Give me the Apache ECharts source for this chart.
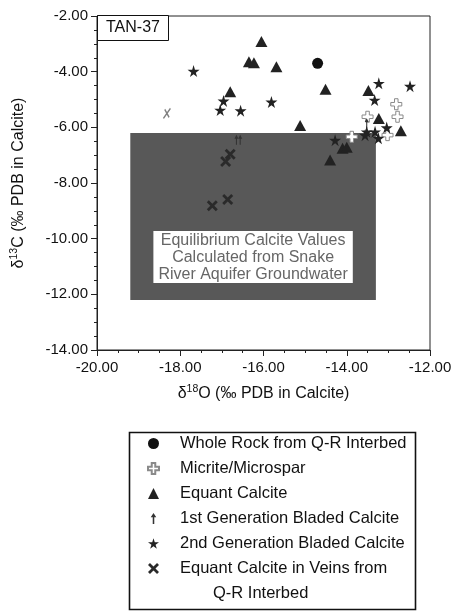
<!DOCTYPE html>
<html>
<head>
<meta charset="utf-8">
<script src="https://cdn.jsdelivr.net/npm/echarts@6/dist/echarts.min.js"></script>
<style>html,body{margin:0;padding:0;background:#fff;}#c{width:455px;height:611px;}</style>
</head>
<body>
<div id="c"></div>
<script>
// ---- data (δ18O, δ13C) ----
var xTicks = [-20, -18, -16, -14, -12];
var yTicks = [-14, -12, -10, -8, -6, -4, -2];
var wholeRock = [[-14.7, -3.7]];
var micrite = [[-12.81, -5.17], [-12.78, -5.62], [-13.5, -5.62], [-13.02, -6.28], [-13.88, -6.34]];
var equant = [[-16.05, -2.92], [-16.35, -3.64], [-16.23, -3.68], [-15.69, -3.82], [-16.8, -4.72],
  [-14.51, -4.63], [-15.12, -5.93], [-13.48, -4.68], [-13.23, -5.68], [-12.7, -6.12],
  [-14.1, -6.75], [-14.0, -6.72], [-14.4, -7.17]];
var bladed1 = [[-16.65, -6.45], [-16.56, -6.45], [-13.52, -5.85]];
var bladed2 = [[-17.68, -3.98], [-16.96, -5.05], [-17.04, -5.38], [-16.55, -5.4], [-15.81, -5.09],
  [-13.23, -4.42], [-13.33, -5.02], [-12.48, -4.52], [-13.04, -6.01], [-13.52, -6.16],
  [-13.32, -6.16], [-13.24, -6.39], [-13.56, -6.28], [-14.28, -6.46]];
var veins = [[-16.8, -6.97], [-16.91, -7.23], [-16.86, -8.59], [-17.23, -8.82]];
var other = [[-18.32, -5.5]];
var equilBox = [[-19.2, -6.2], [-13.3, -12.2]];
var names = ['Whole Rock from Q-R Interbed', 'Micrite/Microspar', 'Equant Calcite',
  '1st Generation Bladed Calcite', '2nd Generation Bladed Calcite', 'Equant Calcite in Veins from'];

var STAR = 'path://M50,0 L61,35 L98,35 L68,57 L79,91 L50,70 L21,91 L32,57 L2,35 L39,35 Z';
var PLUS = 'path://M34,0 H66 V34 H100 V66 H66 V100 H34 V66 H0 V34 H34 Z';
var XMARK = 'path://M18,0 L50,32 L82,0 L100,18 L68,50 L100,82 L82,100 L50,68 L18,100 L0,82 L32,50 L0,18 Z';
var ARROW = 'path://M50,0 L95,38 L62,38 L62,100 L38,100 L38,38 L5,38 Z';
var ARROW_LEG = 'path://M0,50 L0,50 M100,50 L100,50 M50,0 L75,38 L57,38 L57,100 L43,100 L43,38 L25,38 Z';
var THINX = 'path://M10,100 L90,0 M25,10 L75,90';

var chart = echarts.init(document.getElementById('c'));
var F = 'Liberation Sans, Arial, Helvetica, sans-serif';
chart.setOption({
  animation: false,
  textStyle: {fontFamily: F},
  grid: {left: 97, right: 25, top: 16, bottom: 261, show: true, borderColor: '#222', borderWidth: 1},
  title: {
    text: 'TAN-37', left: 97, top: 15,
    padding: [5, 9, 5, 9], borderColor: '#111', borderWidth: 1, backgroundColor: '#fff',
    textStyle: {fontSize: 16, fontWeight: 'normal', color: '#111', fontFamily: F}
  },
  xAxis: {
    type: 'value', min: xTicks[0], max: xTicks[xTicks.length - 1], interval: 2,
    splitLine: {show: false},
    axisLine: {lineStyle: {color: '#222'}},
    axisTick: {length: 6, lineStyle: {color: '#222'}},
    minorTick: {show: true, splitNumber: 4, length: 3, lineStyle: {color: '#222'}},
    axisLabel: {margin: 10, fontSize: 15, color: '#111', formatter: function (v) { return v.toFixed(2); }},
    name: '{a|δ}{s|18}{a|O (‰ PDB in Calcite)}', nameLocation: 'middle', nameGap: 34,
    nameTextStyle: {rich: {
      a: {fontSize: 16, color: '#111', lineHeight: 20, fontFamily: F},
      s: {fontSize: 10.5, color: '#111', lineHeight: 12, verticalAlign: 'top', fontFamily: F}
    }}
  },
  yAxis: {
    type: 'value', min: yTicks[0], max: yTicks[yTicks.length - 1], interval: 2,
    splitLine: {show: false},
    axisLine: {lineStyle: {color: '#222'}},
    axisTick: {length: 6, lineStyle: {color: '#222'}},
    minorTick: {show: true, splitNumber: 4, length: 3, lineStyle: {color: '#222'}},
    axisLabel: {margin: 9, fontSize: 15, color: '#111', formatter: function (v) { return v.toFixed(2); }},
    name: '{a|δ}{s|13}{a|C (‰ PDB in Calcite)}', nameLocation: 'middle', nameGap: 68,
    nameTextStyle: {rich: {
      a: {fontSize: 16, color: '#111', lineHeight: 20, fontFamily: F},
      s: {fontSize: 10.5, color: '#111', lineHeight: 12, verticalAlign: 'top', fontFamily: F}
    }}
  },
  legend: {
    orient: 'vertical', left: 147, top: 435, itemWidth: 11, itemHeight: 11, itemGap: 8,
    padding: 0, selectedMode: false,
    textStyle: {fontSize: 16.5, lineHeight: 14, color: '#111', fontFamily: F, padding: [0, 0, 0, 16]},
    data: [
      {name: names[0], icon: 'circle'},
      {name: names[1], icon: PLUS},
      {name: names[2], icon: 'triangle'},
      {name: names[3], icon: ARROW_LEG},
      {name: names[4], icon: STAR},
      {name: names[5], icon: XMARK}
    ]
  },
  graphic: [
    {type: 'rect', shape: {x: 129.5, y: 432.5, width: 286, height: 177},
      style: {fill: 'none', stroke: '#111', lineWidth: 1.6}, z: 0},
    {type: 'text', left: 213, top: 585, style: {text: 'Q-R Interbed', fontSize: 16.5, fill: '#111', fontFamily: F}}
  ],
  series: [
    {
      type: 'scatter', name: 'box', data: [], z: 1, silent: true,
      markArea: {
        silent: true,
        itemStyle: {color: '#585858'},
        label: {
          show: true, position: 'insideBottom', distance: 17,
          formatter: 'Equilibrium Calcite Values\nCalculated from Snake\nRiver Aquifer Groundwater',
          fontSize: 16, lineHeight: 17, color: '#666', backgroundColor: '#fff',
          padding: [1, 5, 0, 5], fontFamily: F
        },
        data: [[{coord: equilBox[0]}, {coord: equilBox[1]}]]
      }
    },
    {type: 'scatter', name: names[0], data: wholeRock, symbol: 'circle', symbolSize: 11, z: 3,
      itemStyle: {color: '#111', opacity: 1}},
    {type: 'scatter', name: names[1], data: micrite, symbol: PLUS, symbolSize: 11, z: 3,
      itemStyle: {color: '#fff', borderColor: '#8a8a8a', borderWidth: 1, opacity: 1}},
    {type: 'scatter', name: names[2], data: equant, symbol: 'triangle', symbolSize: [12, 11], z: 3,
      itemStyle: {color: '#222', opacity: 1}},
    {type: 'scatter', name: names[3], data: bladed1, symbol: ARROW, symbolSize: [4, 10], z: 3,
      itemStyle: {color: '#333', opacity: 1}},
    {type: 'scatter', name: names[4], data: bladed2, symbol: STAR, symbolSize: 12, z: 3,
      itemStyle: {color: '#222', opacity: 1}},
    {type: 'scatter', name: names[5], data: veins, symbol: XMARK, symbolSize: 11, z: 3,
      itemStyle: {color: '#2a2a2a', opacity: 1}},
    {type: 'scatter', name: 'other', data: other, symbol: THINX, symbolSize: [7, 10], z: 3,
      itemStyle: {color: 'none', borderColor: '#808080', borderWidth: 1.5, opacity: 1}}
  ]
});
</script>
</body>
</html>
